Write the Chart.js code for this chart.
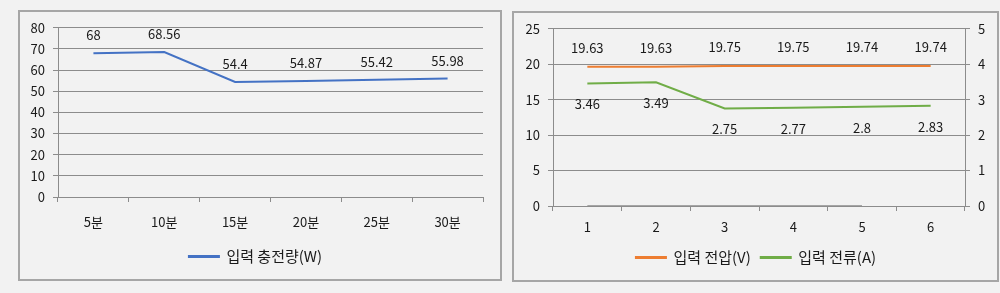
<!DOCTYPE html>
<html>
<head>
<meta charset="utf-8">
<script src="https://cdn.jsdelivr.net/npm/chart.js@4.4.1/dist/chart.umd.min.js"></script>
<style>
  body { margin: 0; background: #f2f2f2; width: 1000px; height: 293px; position: relative; overflow: hidden; }
  .box { position: absolute; border: 2px solid #a6a6a6; box-sizing: border-box; background: #f2f2f2; }
  #box1 { left: 18px; top: 10px; width: 484px; height: 271px; }
  #box2 { left: 512px; top: 11px; width: 487px; height: 271px; }
  canvas { display: block; }
</style>
</head>
<body>
<div class="box" id="box1"><canvas id="chart1" width="480" height="267"></canvas></div>
<div class="box" id="box2"><canvas id="chart2" width="483" height="267"></canvas></div>
<script>
// left chart
let timeLabels = ['5분', '10분', '15분', '20분', '25분', '30분'];
let chargeValues = [68, 68.56, 54.4, 54.87, 55.42, 55.98];

// right chart
let stepLabels = ['1', '2', '3', '4', '5', '6'];
let voltValues = [19.63, 19.63, 19.75, 19.75, 19.74, 19.74];
let ampValues = [3.46, 3.49, 2.75, 2.77, 2.8, 2.83];
let zeroValues = [0, 0, 0, 0, 0];

const FONT = '"Noto Sans CJK KR", "Noto Sans", sans-serif';
const GRID = '#8c8c8c';

Chart.defaults.font.family = FONT;
Chart.defaults.font.size = 13;
Chart.defaults.color = '#1a1a1a';
Chart.defaults.animation = false;

// draw the value next to each point
const valueLabels = {
   id: 'valueLabels',
   afterDatasetsDraw(chart) {
      let ctx = chart.ctx;
      ctx.save();
      ctx.font = '13px ' + FONT;
      ctx.fillStyle = '#1a1a1a';
      ctx.textAlign = 'center';
      ctx.textBaseline = 'middle';
      chart.data.datasets.forEach((ds, i) => {
         if (ds.labelOffset === undefined) return;
         chart.getDatasetMeta(i).data.forEach((pt, j) => {
            ctx.fillText(String(ds.data[j]), pt.x, pt.y + ds.labelOffset);
         });
      });
      ctx.restore();
   }
};

function legendOpts() {
   return {
      position: 'bottom',
      labels: {
         boxWidth: 30,
         boxHeight: 1,
         padding: 10,
         font: { size: 15 },
         filter: item => item.text !== ''
      }
   };
}

function xScale(h, pad) {
   return {
      offset: true,
      grid: { offset: true, drawOnChartArea: false, drawTicks: true, tickLength: 5, color: GRID },
      border: { color: GRID, width: 1 },
      ticks: { padding: pad },
      afterFit: s => { s.height = h; }
   };
}

new Chart(document.getElementById('chart1'), {
   type: 'line',
   data: {
      labels: timeLabels,
      datasets: [{
         label: '입력 충전량(W)',
         data: chargeValues,
         borderColor: '#4472c4',
         backgroundColor: '#4472c4',
         borderWidth: 2,
         pointRadius: 0,
         tension: 0,
         labelOffset: -18
      }]
   },
   options: {
      responsive: false,
      layout: { padding: { left: 8, right: 17, top: 7, bottom: 5 } },
      plugins: { legend: legendOpts(), tooltip: { enabled: false } },
      scales: {
         x: xScale(42, 12),
         y: {
            min: 0, max: 80,
            ticks: { stepSize: 10, padding: 8 },
            grid: { color: GRID, tickLength: 5 },
            border: { color: GRID },
            afterFit: s => { s.width = 30; }
         }
      }
   },
   plugins: [valueLabels]
});

new Chart(document.getElementById('chart2'), {
   type: 'line',
   data: {
      labels: stepLabels,
      datasets: [{
         label: '입력 전압(V)',
         data: voltValues,
         yAxisID: 'y',
         borderColor: '#ed7d31',
         backgroundColor: '#ed7d31',
         borderWidth: 2,
         pointRadius: 0,
         labelOffset: -19
      }, {
         label: '입력 전류(A)',
         data: ampValues,
         yAxisID: 'y1',
         borderColor: '#70ad47',
         backgroundColor: '#70ad47',
         borderWidth: 2,
         pointRadius: 0,
         labelOffset: 21
      }, {
         label: '',
         data: zeroValues,
         yAxisID: 'y',
         borderColor: '#a5a5a5',
         backgroundColor: '#a5a5a5',
         borderWidth: 2,
         pointRadius: 0
      }]
   },
   options: {
      responsive: false,
      layout: { padding: { left: 9, right: 8, top: 7, bottom: 5 } },
      plugins: { legend: legendOpts(), tooltip: { enabled: false } },
      scales: {
         x: xScale(34, 8),
         y: {
            position: 'left',
            min: 0, max: 25,
            ticks: { stepSize: 5, padding: 8 },
            grid: { color: GRID, tickLength: 5 },
            border: { color: GRID },
            afterFit: s => { s.width = 30; }
         },
         y1: {
            position: 'right',
            min: 0, max: 5,
            ticks: { stepSize: 1, padding: 8 },
            grid: { color: GRID, tickLength: 5, drawOnChartArea: false },
            border: { color: GRID },
            afterFit: s => { s.width = 24; }
         }
      }
   },
   plugins: [valueLabels]
});
</script>
</body>
</html>
